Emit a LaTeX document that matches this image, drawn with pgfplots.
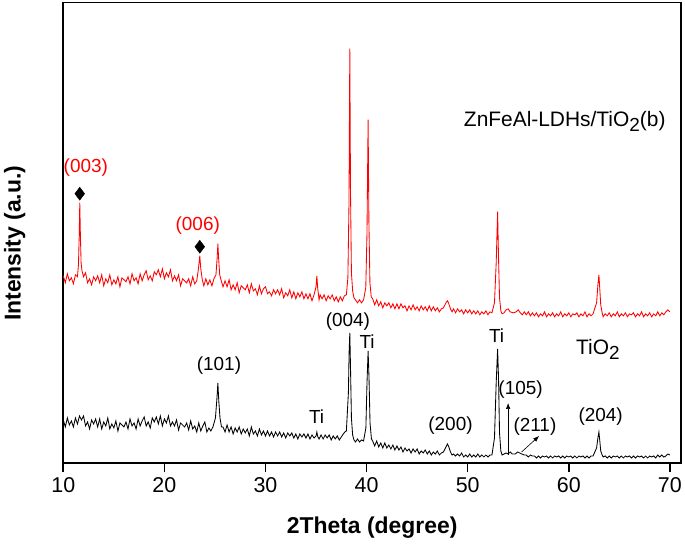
\documentclass[border=0pt]{standalone}
\usepackage{fontspec}
\setmainfont{Liberation Sans}
\usepackage{pgfplots}
\pgfplotsset{compat=1.18}
\usepackage{pgfplotstable}
\usetikzlibrary{arrows.meta}

\pgfplotstableread{
x y
10.0 187
10.2 180
10.4 189
10.6 182
10.8 185
11.0 179
11.2 188
11.4 186
11.5 198
11.57 225
11.63 260
11.69 228
11.76 200
11.85 192
12.0 186
12.2 190
12.4 180
12.6 184
12.8 178
13.0 186
13.2 182
13.4 187
13.6 180
13.8 188
14.0 177
14.2 184
14.4 180
14.6 188
14.8 178
15.0 183
15.2 179
15.4 186
15.6 176
15.8 185
16.0 183
16.2 181
16.4 186
16.6 179
16.8 189
17.0 182
17.2 185
17.4 179
17.6 189
17.8 182
18.0 188
18.2 192
18.4 183
18.6 187
18.8 182
19.0 191
19.2 188
19.4 193
19.6 186
19.8 194
20.0 184
20.2 190
20.4 186
20.6 193
20.8 182
21.0 187
21.2 182
21.4 188
21.6 177
21.8 184
22.0 182
22.2 180
22.4 184
22.6 177
22.8 186
23.0 179
23.2 182
23.38 195
23.5 207
23.6 194
23.75 183
23.9 177
24.1 184
24.3 178
24.5 183
24.7 177
24.9 184
25.1 188
25.22 205
25.29 219
25.36 205
25.47 188
25.6 183
25.8 176
26.0 182
26.2 176
26.4 183
26.6 173
26.8 178
27.0 173
27.2 180
27.4 170
27.6 177
27.8 175
28.0 173
28.2 178
28.4 170
28.6 179
28.8 172
29.0 174
29.2 168
29.4 177
29.6 169
29.8 174
30.0 176
30.2 169
30.4 171
30.6 167
30.8 173
31.0 169
31.2 173
31.4 168
31.6 174
31.8 165
32.0 170
32.2 167
32.4 173
32.6 165
32.8 171
33.0 164
33.2 170
33.4 166
33.6 171
33.8 164
34.0 169
34.2 164
34.4 169
34.6 162
34.8 168
35.0 176
35.08 187
35.16 175
35.3 163
35.4 168
35.6 164
35.8 168
36.0 162
36.2 167
36.4 164
36.6 168
36.8 162
37.0 166
37.2 161
37.4 166
37.6 162
37.8 167
38.0 168
38.15 185
38.26 260
38.34 414
38.41 270
38.5 190
38.62 172
38.75 165
38.9 163
39.1 160
39.3 163
39.5 160
39.7 163
39.92 175
40.04 230
40.15 343
40.23 240
40.33 180
40.46 166
40.6 164
40.8 158
41.0 163
41.2 157
41.4 161
41.6 155
41.8 160
42.0 157
42.2 160
42.4 155
42.6 159
42.8 154
43.0 159
43.2 154
43.4 159
43.6 155
43.8 157
44.0 152
44.2 157
44.4 153
44.6 158
44.8 153
45.0 156
45.2 152
45.4 157
45.6 153
45.8 156
46.0 152
46.2 157
46.4 152
46.6 156
46.8 152
47.0 155
47.2 151
47.4 154
47.6 155
47.85 160
48.0 162
48.1 160
48.3 154
48.45 151
48.6 154
48.8 150
49.0 154
49.2 151
49.4 153
49.6 149
49.8 153
50.0 150
50.2 153
50.4 149
50.6 152
50.8 149
51.0 152
51.2 148
51.4 151
51.6 149
51.8 152
52.0 148
52.2 151
52.4 150
52.65 160
52.82 200
52.96 251
53.05 205
53.15 165
53.28 152
53.4 149
53.6 150
53.8 153
54.0 154
54.2 151
54.5 150
54.8 151
55.0 153
55.2 150
55.4 148
55.6 151
55.8 148
56.0 151
56.2 147
56.4 150
56.6 147
56.8 150
57.0 146
57.2 149
57.4 147
57.6 151
57.8 146
58.0 149
58.2 147
58.4 150
58.6 146
58.8 149
59.0 147
59.2 151
59.4 146
59.6 149
59.8 147
60.0 150
60.2 146
60.4 149
60.6 148
60.8 150
61.0 146
61.2 149
61.4 147
61.6 151
61.8 146
62.0 149
62.2 147
62.4 149
62.75 160
62.88 178
62.98 188
63.06 175
63.16 158
63.3 150
63.4 146
63.6 149
63.8 147
64.0 150
64.2 146
64.4 149
64.6 147
64.8 151
65.0 146
65.2 149
65.4 147
65.6 150
65.8 146
66.0 149
66.2 148
66.4 150
66.6 146
66.8 149
67.0 147
67.2 151
67.4 146
67.6 149
67.8 147
68.0 150
68.2 146
68.4 149
68.6 147
68.8 151
69.0 147
69.2 150
69.4 148
69.6 151
69.8 153
70.0 151
}\redtab

\pgfplotstableread{
x y
10.0 43
10.2 36
10.4 45
10.6 38
10.8 42
11.0 36
11.2 45
11.4 39
11.6 47
11.8 43
12.0 47
12.2 37
12.4 41
12.6 34
12.8 43
13.0 39
13.2 44
13.4 36
13.6 44
13.8 34
14.0 41
14.2 37
14.4 45
14.6 34
14.8 39
15.0 35
15.2 42
15.4 32
15.6 40
15.8 38
16.0 36
16.2 41
16.4 34
16.6 44
16.8 37
17.0 40
17.2 34
17.4 44
17.6 37
17.8 42
18.0 46
18.2 37
18.4 41
18.6 35
18.8 45
19.0 41
19.2 46
19.4 39
19.6 47
19.8 37
20.0 44
20.2 40
20.4 47
20.6 37
20.8 41
21.0 37
21.2 43
21.4 33
21.6 40
21.8 38
22.0 36
22.2 40
22.4 33
22.6 42
22.8 34
23.0 37
23.2 31
23.4 40
23.6 32
23.8 37
24.0 41
24.2 31
24.4 35
24.6 32
24.8 36
25.05 45
25.2 65
25.29 80
25.38 62
25.5 45
25.65 36
25.8 36
26.0 31
26.2 38
26.4 31
26.6 36
26.8 29
27.0 35
27.2 31
27.4 36
27.6 29
27.8 34
28.0 30
28.2 34
28.4 27
28.6 36
28.8 29
29.0 32
29.2 27
29.4 34
29.6 28
29.8 32
30.0 27
30.2 32
30.4 27
30.6 31
30.8 26
31.0 31
31.2 27
31.4 31
31.6 26
31.8 30
32.0 25
32.2 30
32.4 27
32.6 30
32.8 25
33.0 29
33.2 24
33.4 29
33.6 26
33.8 29
34.0 25
34.2 29
34.4 24
34.6 28
34.8 25
35.0 27
35.08 31
35.18 26
35.3 24
35.5 28
35.7 24
35.9 28
36.1 25
36.3 28
36.5 23
36.7 27
36.9 24
37.1 27
37.3 23
37.5 26
37.7 29
37.85 31
38.0 32
38.2 70
38.27 110
38.34 130
38.41 95
38.5 45
38.62 28
38.75 23
38.9 21
39.1 24
39.3 21
39.5 23
39.7 22
39.93 35
40.04 80
40.15 112
40.24 85
40.34 40
40.48 24
40.6 22
40.8 17
41.0 22
41.2 16
41.4 20
41.6 15
41.8 20
42.0 15
42.2 18
42.4 14
42.6 18
42.8 13
43.0 17
43.2 13
43.4 16
43.6 11
43.8 15
44.0 12
44.2 14
44.4 10
44.6 14
44.8 11
45.0 14
45.2 9
45.4 12
45.6 10
45.8 13
46.0 9
46.2 12
46.4 8
46.6 11
46.8 9
47.0 12
47.2 8
47.4 10
47.6 11
47.85 16
48.0 19
48.1 17
48.3 11
48.45 8
48.6 9
48.8 7
49.0 9
49.2 7
49.4 10
49.6 6
49.8 8
50.0 6
50.2 9
50.4 6
50.6 8
50.8 6
51.0 9
51.2 6
51.4 8
51.6 6
51.8 8
52.0 6
52.2 8
52.4 8
52.65 25
52.82 80
52.96 114
53.05 85
53.15 30
53.28 12
53.4 8
53.6 9
53.8 10
54.0 9
54.2 11
54.4 9
54.7 9
54.95 11
55.15 10
55.35 9
55.6 8
55.8 8
56.0 6
56.2 8
56.4 7
56.6 7
56.8 5
57.0 7
57.2 5
57.4 7
57.6 6
57.8 7
58.0 5
58.2 7
58.4 5
58.6 7
58.8 6
59.0 7
59.2 5
59.4 7
59.6 5
59.8 7
60.0 6
60.2 7
60.4 5
60.6 7
60.8 5
61.0 7
61.2 6
61.4 7
61.6 5
61.8 7
62.0 5
62.2 7
62.4 7
62.75 15
62.88 25
62.98 31
63.06 23
63.16 12
63.3 8
63.4 6
63.6 7
63.8 5
64.0 7
64.2 5
64.4 7
64.6 6
64.8 7
65.0 5
65.2 7
65.4 5
65.6 7
65.8 6
66.0 7
66.2 5
66.4 7
66.6 5
66.8 7
67.0 6
67.2 7
67.4 5
67.6 7
67.8 5
68.0 7
68.2 6
68.4 7
68.6 5
68.8 8
69.0 6
69.2 8
69.4 6
69.6 7
69.8 9
70.0 8
}\blacktab

\begin{document}
\begin{tikzpicture}
\begin{axis}[
  at={(0,0)}, anchor=south west,
  scale only axis, width=617.7bp, height=460.5bp,
  xmin=10, xmax=71.1, ymin=0, ymax=460,
  xtick={10,20,...,70}, ytick=\empty,
  xtick pos=left, tick align=outside,
  major tick length=9bp,
  axis line style={line width=1.6bp},
  every tick/.style={line width=1.6bp, black},
  /pgf/number format/assume math mode=true,
  ticklabel style={font=\fontsize{21.5}{21.5}\selectfont},
  xticklabel style={yshift=-2bp},
  xlabel={2Theta (degree)}, ylabel={Intensity (a.u.)},
  label style={font=\fontsize{23}{23}\selectfont\bfseries},
  xlabel style={at={(axis description cs:0.5,-0.1413)}, anchor=center},
  ylabel style={at={(axis description cs:-0.0785,0.477)}, anchor=center},
  clip=false,
]
\addplot[red, line width=0.85bp] table[x=x, y=y] {\redtab};
\addplot[black, line width=0.85bp] table[x=x, y=y] {\blacktab};
\addplot[only marks, mark=diamond*, mark size=6.5bp, black] coordinates {(11.63,269) (23.5,216)};

\tikzset{pk/.style={font=\fontsize{19}{19}\selectfont, inner sep=0pt}}
\node[pk, red] at (axis cs:12.23,295) {(003)};
\node[pk, red] at (axis cs:23.3,237) {(006)};
\node[font=\fontsize{21}{21}\selectfont, inner sep=0pt] at (axis cs:59.6,341) {ZnFeAl-LDHs/TiO\raisebox{-0.45ex}{\fontsize{19}{19}\selectfont 2}(b)};
\node[pk] at (axis cs:25.4,97) {(101)};
\node[pk] at (axis cs:35.05,46) {Ti};
\node[pk] at (axis cs:38.15,141) {(004)};
\node[pk] at (axis cs:40.05,121) {Ti};
\node[pk] at (axis cs:48.3,37) {(200)};
\node[pk] at (axis cs:52.86,127) {Ti};
\node[font=\fontsize{21}{21}\selectfont, inner sep=0pt] at (axis cs:62.88,113) {TiO\raisebox{-0.45ex}{\fontsize{19}{19}\selectfont 2}};
\node[pk] at (axis cs:55.23,73) {(105)};
\node[pk] at (axis cs:56.65,36) {(211)};
\node[pk] at (axis cs:63.15,46) {(204)};
\draw[-{Latex[length=6bp,width=4.5bp]}, line width=0.6bp] (axis cs:54.0,8) -- (axis cs:54.0,60);
\draw[-{Latex[length=6bp,width=4.5bp]}, line width=0.6bp] (axis cs:55.33,11) -- (axis cs:57.07,27);
\end{axis}
\pgfresetboundingbox
\useasboundingbox (-63.3bp,-82bp) rectangle (621.7bp,463bp);
\end{tikzpicture}
\end{document}
